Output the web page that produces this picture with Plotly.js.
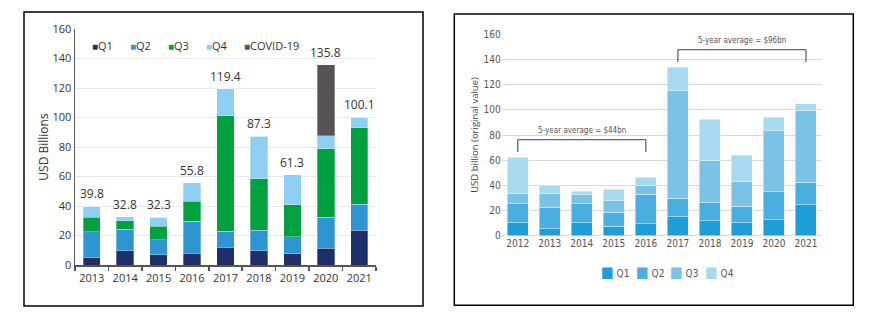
<!DOCTYPE html>
<html>
<head>
<meta charset="utf-8">
<script src="https://cdn.plot.ly/plotly-3.0.1.min.js"></script>
<style>html,body{margin:0;padding:0;background:#fff;}#chart{width:877px;height:325px;}</style>
</head>
<body>
<div id="chart"></div>
<script>
// ---- Left chart data ----
const yearsA = ['2013','2014','2015','2016','2017','2018','2019','2020','2021'];
const q1A = [5.0, 9.5, 6.8, 8.1, 12.0, 9.5, 7.5, 11.5, 23.7];
const q2A = [17.5, 14.9, 10.2, 21.7, 11.0, 14.0, 11.5, 20.8, 17.4];
const q3A = [10.0, 5.6, 9.2, 13.4, 78.2, 35.0, 21.7, 46.6, 52.0];
const q4A = [7.3, 2.8, 6.1, 12.6, 18.2, 28.8, 20.6, 8.6, 7.0];
const covidA = [0, 0, 0, 0, 0, 0, 0, 48.3, 0];
const totalsA = [39.8, 32.8, 32.3, 55.8, 119.4, 87.3, 61.3, 135.8, 100.1];
const seriesNamesA = ['Q1','Q2','Q3','Q4','COVID-19'];

// ---- Right chart data ----
const yearsB = ['2012','2013','2014','2015','2016','2017','2018','2019','2020','2021'];
const q1B = [10.1, 5.6, 10.1, 7.7, 9.3, 15.1, 11.7, 10.1, 12.5, 24.6];
const q2B = [15.3, 17.2, 15.3, 11.1, 23.5, 14.8, 14.5, 13.2, 22.5, 17.8];
const q3B = [8.2, 10.8, 7.2, 9.5, 6.7, 85.1, 33.9, 19.9, 48.2, 56.9];
const q4B = [28.7, 6.4, 2.9, 8.8, 7.1, 18.8, 32.6, 20.6, 10.8, 5.6];
const seriesNamesB = ['Q1','Q2','Q3','Q4'];
const avgLabels = ['5-year average = $44bn', '5-year average = $96bn'];
const avgFrom = ['2012', '2017'];
const avgTo = ['2016', '2021'];

const colorsA = ['#1f2f6a', '#2d95d2', '#00a13e', '#8ecff3', '#565455'];
const colorsB = ['#1e9ed8', '#4aafe0', '#7bc3e6', '#a7d9ef'];

const fontA = 'Open Sans, Noto Sans, sans-serif';
const fontB = "'Liberation Sans Narrow', 'DejaVu Sans Condensed', sans-serif";

const W = 877, H = 325;
const valsA = [q1A, q2A, q3A, q4A, covidA];
const valsB = [q1B, q2B, q3B, q4B];

const traces = [];
valsA.forEach((v, i) => {
  traces.push({type:'bar', x: yearsA, y: v, name: seriesNamesA[i], xaxis:'x', yaxis:'y',
    width: 0.52, marker:{color: colorsA[i], line:{color:'rgba(255,255,255,0.5)', width:0.6}},
    hoverinfo:'skip'});
});
valsB.forEach((v, i) => {
  traces.push({type:'bar', x: yearsB, y: v, name: seriesNamesB[i], xaxis:'x2', yaxis:'y2',
    width: 0.656, marker:{color: colorsB[i], line:{color:'rgba(255,255,255,0.6)', width:0.7}},
    hoverinfo:'skip'});
});

const annotations = [];
// totals above left bars
totalsA.forEach((t, i) => {
  annotations.push({xref:'x', yref:'y', x: i, y: t, text: t.toFixed(1), showarrow:false,
    yanchor:'bottom', yshift:2, font:{family: fontA, size:12, color:'#333'}});
});
// left legend (text glyphs)
const legXA = [90, 128, 166, 204, 242];
seriesNamesA.forEach((n, i) => {
  annotations.push({xref:'paper', yref:'paper', x: legXA[i]/W, y: 1 - 46/H, xanchor:'left', yanchor:'middle',
    showarrow:false, text:'<span style="color:'+colorsA[i]+';font-size:10px">■</span>'+n,
    font:{family: fontA, size:11, color:'#333'}});
});
// right legend
const legXB = [599, 634, 668, 703];
seriesNamesB.forEach((n, i) => {
  annotations.push({xref:'paper', yref:'paper', x: legXB[i]/W, y: 1 - 272/H, xanchor:'left', yanchor:'middle',
    showarrow:false, text:'<span style="color:'+colorsB[i]+';font-size:15px">■</span> '+n,
    font:{family: fontB, size:10, color:'#555'}});
});

// brackets for 5-year averages
const totalsB = yearsB.map((_, i) => q1B[i] + q2B[i] + q3B[i] + q4B[i]);
const shapes = [];
avgLabels.forEach((lab, k) => {
  const a = yearsB.indexOf(avgFrom[k]), b = yearsB.indexOf(avgTo[k]);
  const mx = Math.max(...totalsB.slice(a, b + 1));
  const level = mx + 14, end = mx + 4.2;
  const ln = {color:'#5c6570', width:1.3};
  shapes.push({type:'line', xref:'x2', yref:'y2', x0:a, x1:b, y0:level, y1:level, line:ln});
  shapes.push({type:'line', xref:'x2', yref:'y2', x0:a, x1:a, y0:level, y1:end, line:ln});
  shapes.push({type:'line', xref:'x2', yref:'y2', x0:b, x1:b, y0:level, y1:end, line:ln});
  annotations.push({xref:'x2', yref:'y2', x:(a + b) / 2, y: level, yshift:3, yanchor:'bottom', showarrow:false,
    text: lab, font:{family: fontB, size:8, color:'#555'}});
});
// frames
shapes.push({type:'rect', xref:'paper', yref:'paper', x0:24/W, x1:423/W, y0:1-306/H, y1:1-12/H, line:{color:'#000', width:1.5}});
shapes.push({type:'rect', xref:'paper', yref:'paper', x0:454.3/W, x1:853.3/W, y0:1-305.3/H, y1:1-14/H, line:{color:'#000', width:1.5}});

const layout = {
  width: W, height: H, margin:{l:0, r:0, t:0, b:0},
  paper_bgcolor:'#fff', plot_bgcolor:'rgba(0,0,0,0)',
  barmode:'stack', showlegend:false,
  xaxis:{domain:[75/W, 376/W], anchor:'y', type:'category', range:[-0.5, 8.5],
    tickson:'boundaries', ticks:'outside', ticklen:4, tickwidth:1.5, tickcolor:'#555', tickangle:0,
    ticklabelstandoff:2,
    showline:true, linecolor:'#555', linewidth:1.5, showgrid:false, fixedrange:true,
    tickfont:{family: fontA, size:11, color:'#333'}},
  yaxis:{domain:[60/H, 296/H], anchor:'x', range:[0, 160], dtick:20, tick0:0,
    showline:true, linecolor:'#555', linewidth:1.5, gridcolor:'#e8e8e8', gridwidth:1, zeroline:false,
    ticks:'', tickfont:{family: fontA, size:11, color:'#333'},
    title:{text:'USD Billions', font:{family: fontA, size:12, color:'#333'}, standoff:1}},
  xaxis2:{domain:[501.7/W, 822/W], anchor:'y2', type:'category', range:[-0.5, 9.5], tickangle:0,
    showline:false, showgrid:false, ticks:'', tickfont:{family: fontB, size:10, color:'#555'}},
  yaxis2:{domain:[89.3/H, 290.7/H], anchor:'x2', range:[0, 160], dtick:20, tick0:0,
    showline:false, gridcolor:'#d5d8dd', gridwidth:1, zeroline:true, zerolinecolor:'#d5d8dd', zerolinewidth:1,
    ticks:'', tickfont:{family: fontB, size:10, color:'#555'},
    title:{text:'USD billion (original value)', font:{family: 'Open Sans, sans-serif', size:9.5, color:'#444'}, standoff:3}},
  annotations: annotations,
  shapes: shapes
};

Plotly.newPlot('chart', traces, layout, {staticPlot:true, displayModeBar:false});
</script>
</body>
</html>
